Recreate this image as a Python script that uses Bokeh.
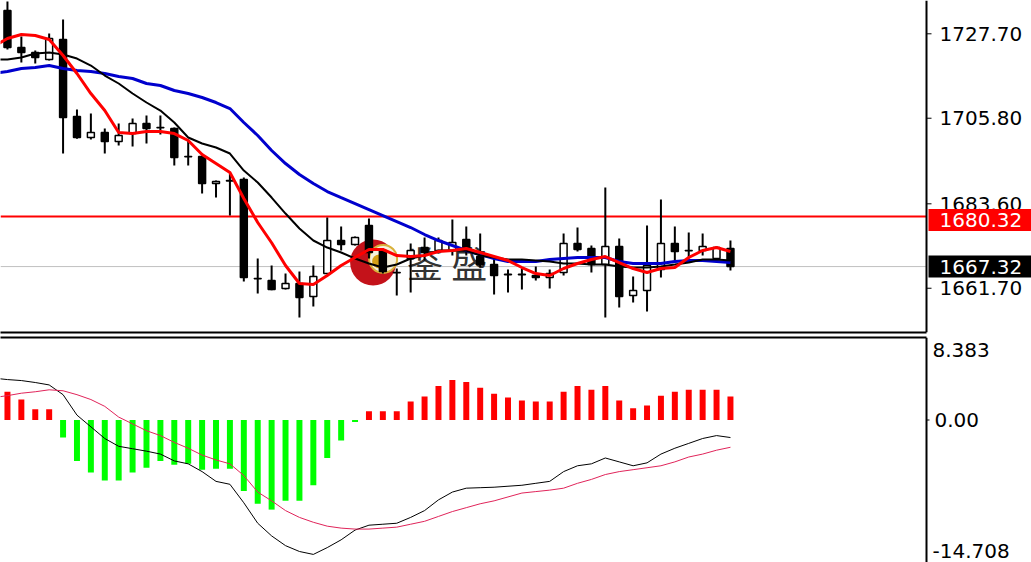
from bokeh.plotting import figure
from bokeh.layouts import column
from bokeh.models import Range1d, FixedTicker, LinearAxis, Span, ColumnDataSource
from bokeh.core.properties import value
from bokeh.embed import file_html
from bokeh.resources import INLINE

# ---------------- data ----------------
bars = list(range(53))
opens = [1733.74, 1724.15, 1722.85, 1721.03, 1726.22, 1706.25, 1700.80, 1702.09, 1699.76, 1701.83,
         1704.43, 1703.40, 1703.13, 1695.90, 1695.87, 1688.86, 1689.65, 1689.90, 1664.25, 1663.70,
         1661.63, 1662.92, 1659.55, 1665.52, 1674.08, 1673.04, 1677.97, 1671.49, 1665.80, 1669.41,
         1672.26, 1671.49, 1671.49, 1674.34, 1669.93, 1667.85, 1665.30, 1665.30, 1665.00, 1664.48,
         1665.78, 1673.30, 1672.01, 1667.85, 1672.52, 1659.81, 1661.11, 1666.56, 1673.30, 1671.50,
         1671.49, 1669.41, 1672.01]
highs = [1736.08, 1727.00, 1723.37, 1727.78, 1731.41, 1708.06, 1707.03, 1703.13, 1704.43, 1705.73,
         1706.51, 1706.51, 1703.39, 1700.28, 1696.13, 1689.64, 1691.46, 1690.42, 1669.41, 1667.59,
         1665.52, 1666.04, 1667.59, 1680.05, 1677.71, 1675.12, 1679.79, 1672.01, 1666.82, 1673.30,
         1674.86, 1674.86, 1679.53, 1677.71, 1675.90, 1669.67, 1666.56, 1666.82, 1667.34, 1666.56,
         1675.90, 1677.45, 1672.78, 1687.83, 1674.60, 1664.74, 1677.97, 1684.71, 1677.71, 1676.16,
         1675.90, 1672.52, 1674.08]
lows = [1723.63, 1720.25, 1719.99, 1720.77, 1696.65, 1700.50, 1700.28, 1696.65, 1698.72, 1698.46,
        1699.24, 1701.57, 1693.53, 1693.53, 1686.27, 1685.23, 1680.56, 1663.44, 1660.33, 1661.20,
        1661.37, 1654.11, 1656.96, 1665.40, 1671.49, 1672.78, 1669.41, 1665.52, 1659.81, 1660.59,
        1668.89, 1670.71, 1670.19, 1670.19, 1667.08, 1660.07, 1660.59, 1661.37, 1663.70, 1661.63,
        1665.00, 1671.23, 1665.78, 1654.11, 1656.70, 1658.00, 1655.66, 1664.48, 1668.89, 1669.41,
        1670.19, 1668.89, 1666.30]
closes = [1724.15, 1722.85, 1721.55, 1726.48, 1705.99, 1700.80, 1702.09, 1699.76, 1701.32, 1704.43,
          1703.13, 1703.30, 1695.61, 1695.80, 1688.86, 1689.38, 1689.55, 1664.48, 1664.15, 1661.37,
          1662.92, 1659.29, 1664.74, 1674.08, 1673.04, 1674.86, 1670.97, 1666.04, 1665.70, 1671.49,
          1670.97, 1674.08, 1673.56, 1671.49, 1667.85, 1665.00, 1665.20, 1665.20, 1664.48, 1665.52,
          1673.30, 1671.75, 1667.85, 1672.52, 1659.55, 1661.11, 1667.59, 1673.30, 1671.23, 1671.40,
          1672.52, 1672.26, 1667.32]

ma_x = list(range(-1, 53))
ma_fast = [1724.41, 1726.48, 1727.52, 1727.26, 1726.22, 1722.07, 1717.40, 1712.21, 1707.80, 1702.09,
           1701.83, 1702.35, 1702.35, 1701.83, 1700.02, 1696.39, 1694.05, 1691.72, 1685.00, 1678.75,
           1673.50, 1667.59, 1662.92, 1662.66, 1665.00, 1667.59, 1669.67, 1671.75, 1671.75, 1670.19,
           1669.93, 1670.19, 1671.23, 1671.49, 1672.01, 1670.97, 1669.93, 1668.89, 1667.08, 1665.52,
           1665.00, 1666.82, 1668.11, 1669.15, 1669.93, 1668.37, 1666.82, 1665.78, 1666.82, 1667.08,
           1669.67, 1671.49, 1672.26, 1671.23]
ma_mid = [1721.03, 1721.03, 1721.55, 1722.59, 1722.85, 1722.33, 1721.29, 1719.47, 1716.88, 1714.81,
          1712.21, 1709.88, 1707.80, 1704.69, 1700.80, 1699.24, 1698.20, 1696.65, 1692.24, 1689.12,
          1685.23, 1681.08, 1677.19, 1674.08, 1672.26, 1670.97, 1669.41, 1668.11, 1667.08, 1667.85,
          1669.41, 1670.19, 1671.49, 1671.49, 1671.49, 1670.19, 1669.67, 1669.15, 1669.15, 1668.89,
          1668.63, 1668.11, 1668.11, 1667.85, 1667.85, 1667.34, 1667.08, 1667.08, 1667.34, 1667.85,
          1668.37, 1669.15, 1669.15, 1668.89]
ma_slow = [1717.40, 1717.92, 1718.70, 1718.96, 1719.47, 1718.70, 1718.18, 1717.92, 1717.40, 1716.62,
           1716.10, 1714.81, 1714.29, 1712.99, 1712.21, 1711.18, 1709.88, 1708.32, 1704.69, 1701.32,
           1697.43, 1694.05, 1691.20, 1688.86, 1686.79, 1685.23, 1683.68, 1682.12, 1680.56, 1679.01,
           1677.45, 1675.64, 1674.08, 1672.78, 1671.49, 1670.45, 1669.41, 1668.63, 1668.63, 1668.63,
           1669.15, 1669.41, 1669.67, 1669.67, 1669.67, 1668.63, 1668.11, 1668.11, 1668.11, 1668.63,
           1668.89, 1668.89, 1668.63, 1668.37]

price_ticks = [1727.70, 1705.80, 1683.60, 1661.70]
resistance = 1680.32
last_price = 1667.32

hist = [2.9, 2.1, 1.1, 1.1, -1.8, -4.2, -5.4, -6.2, -6.2, -5.4,
        -4.9, -4.2, -4.6, -4.5, -5.1, -5.0, -5.0, -7.3, -8.6, -9.2,
        -8.3, -8.3, -6.7, -3.9, -2.1, -0.2, 0.9, 0.9, 0.9, 1.9,
        2.4, 3.5, 4.1, 3.9, 3.3, 2.7, 2.3, 2.0, 1.9, 1.9,
        2.9, 3.5, 3.1, 3.5, 2.0, 1.2, 1.5, 2.5, 2.9, 3.1,
        3.1, 3.1, 2.4]
macd_main = [4.3, 4.15, 4.05, 3.85, 3.6, 2.6, 0.5, -0.7, -1.9, -2.7,
             -2.95, -3.2, -3.5, -4.2, -4.5, -5.3, -6.3, -6.6, -8.5, -10.6,
             -11.9, -12.9, -13.5, -13.8, -13.1, -12.3, -11.3, -10.8, -10.7, -10.6,
             -10.0, -9.3, -8.2, -7.4, -7.0, -6.95, -6.9, -6.8, -6.7, -6.5,
             -6.3, -5.3, -4.7, -4.5, -3.9, -4.3, -4.7, -4.4, -3.5, -2.9,
             -2.4, -1.9, -1.6, -1.8]
macd_signal = [2.3, 2.5, 2.75, 2.9, 3.1, 3.0, 2.6, 2.1, 1.4, 0.3,
               -0.4, -1.1, -1.6, -2.3, -2.9, -3.6, -4.1, -4.5, -5.7, -7.4,
               -8.3, -9.3, -10.0, -10.5, -10.9, -11.1, -11.2, -11.2, -11.1, -11.0,
               -10.7, -10.4, -9.9, -9.4, -9.0, -8.6, -8.3, -7.9, -7.5, -7.35,
               -7.2, -7.0, -6.5, -6.1, -5.6, -5.3, -5.1, -4.9, -4.7, -4.3,
               -3.8, -3.5, -3.1, -2.8]
macd_top_label = 8.383
macd_zero_tick = 0.0
macd_bottom_label = -14.708

watermark_text = "鉴 盛"
watermark_bar = 26.3        # bar position of the watermark logo
watermark_price = 1668.4    # price level of the watermark

# ---------------- layout constants ----------------
W = 1031
CHART_PX = 926              # chart area width; the rest is the price scale
X0, X_CHART_END = -0.5, 66.1
PX_PER_BAR = CHART_PX / (X_CHART_END - X0)
X_END = X_CHART_END + (W - CHART_PX) / PX_PER_BAR
AXIS_X = X_CHART_END
FONT = "DejaVu Sans"
LABEL_SIZE = "20px"
X_RANGE = Range1d(X0, X_END)


def px(n):
    """horizontal pixel distance expressed in bar units"""
    return n / PX_PER_BAR


# ---------------- price panel ----------------
TOP_H = 332
P_LO, P_HI = 1650.22, 1736.34
PX_PER_PRICE = TOP_H / (P_HI - P_LO)
p = figure(frame_width=W, frame_height=TOP_H, x_range=X_RANGE,
           y_range=Range1d(P_LO, P_HI), output_backend="svg",
           toolbar_location=None, min_border=0, min_border_bottom=2,
           x_axis_location=None, y_axis_location=None)
p.outline_line_color = None
p.grid.visible = False

sep1 = LinearAxis(ticker=FixedTicker(ticks=[]), bounds=(X0, AXIS_X),
                  axis_line_width=2, axis_line_color="black",
                  major_tick_line_color=None, minor_tick_line_color=None,
                  major_label_text_font_size="0px", major_tick_out=0, major_label_standoff=0)
p.add_layout(sep1, "below")

# horizontal price lines (under the candles)
p.segment(x0=[X0, X0], x1=[AXIS_X, AXIS_X], y0=[resistance, last_price],
          y1=[resistance, last_price], line_color=["#ff0000", "#c0c0c0"], line_width=[2, 1])

# watermark (behind the candles)
p.scatter([watermark_bar], [watermark_price], size=46, marker="circle",
          fill_color="#c4121a", line_color=None)
p.scatter([watermark_bar + px(10)], [watermark_price + 3.5 / PX_PER_PRICE], size=28,
          marker="circle", fill_color="#f6f1de", line_color="#d9b13b", line_width=2)
p.scatter([watermark_bar + px(6)], [watermark_price + 1 / PX_PER_PRICE], size=14,
          marker="circle", fill_color="#d4a017", line_color=None)
p.text(x=[watermark_bar + px(34)], y=[watermark_price], text=[watermark_text],
       text_font=value("Noto Sans CJK SC"), text_font_size="36px",
       text_color="#333333", text_baseline="middle", text_align="left")

tops = [max(o, c) for o, c in zip(opens, closes)]
bots = [min(o, c) for o, c in zip(opens, closes)]
fills = ["black" if c < o else "white" for o, c in zip(opens, closes)]
src = ColumnDataSource(dict(x=bars, h=highs, l=lows, top=tops, bottom=bots, fill=fills))
p.segment(x0="x", y0="h", x1="x", y1="l", source=src, line_color="black", line_width=2)
p.vbar(x="x", width=0.5, top="top", bottom="bottom", source=src,
       fill_color="fill", line_color="black", line_width=1.5)

p.line(ma_x, ma_slow, line_color="#0000cd", line_width=3)
p.line(ma_x, ma_mid, line_color="black", line_width=2)
p.line(ma_x, ma_fast, line_color="#ff0000", line_width=3)

# price scale on the right
p.add_layout(Span(location=AXIS_X, dimension="height", line_color="black", line_width=2))
p.segment(x0=[AXIS_X] * len(price_ticks), x1=[AXIS_X + px(5)] * len(price_ticks),
          y0=price_ticks, y1=price_ticks, line_color="black", line_width=1)
p.text(x=[AXIS_X + px(13)] * len(price_ticks), y=price_ticks,
       text=["%.2f" % t for t in price_ticks], text_font=value(FONT),
       text_font_size=LABEL_SIZE, text_color="black", text_baseline="middle", text_align="left")

# current-level boxes
box_x = AXIS_X + px(2 + (W - CHART_PX - 2) / 2)
p.rect(x=[box_x, box_x], y=[resistance - 3.5 / PX_PER_PRICE, last_price],
       width=W - CHART_PX - 2, height=22, width_units="screen", height_units="screen",
       fill_color=["#ff0000", "black"], line_color=None)
p.text(x=[AXIS_X + px(13)] * 2, y=[resistance - 3.5 / PX_PER_PRICE, last_price],
       text=["%.2f" % resistance, "%.2f" % last_price], text_font=value(FONT),
       text_font_size=LABEL_SIZE, text_color="white", text_baseline="middle", text_align="left")

# ---------------- MACD panel ----------------
BOT_H = 225
M_LO, M_HI = -14.63, 8.47
q = figure(frame_width=W, frame_height=BOT_H, x_range=X_RANGE,
           y_range=Range1d(M_LO, M_HI), output_backend="svg",
           toolbar_location=None, min_border=0, min_border_top=3,
           x_axis_location=None, y_axis_location=None)
q.outline_line_color = None
q.grid.visible = False

sep2 = LinearAxis(ticker=FixedTicker(ticks=[]), bounds=(X0, AXIS_X),
                  axis_line_width=2, axis_line_color="black",
                  major_tick_line_color=None, minor_tick_line_color=None,
                  major_label_text_font_size="0px", major_tick_out=0, major_label_standoff=0)
q.add_layout(sep2, "above")

hcol = ["#ff0000" if v >= 0 else "#00ff00" for v in hist]
q.vbar(x=bars, top=hist, bottom=0, width=0.43, fill_color=hcol, line_color=None)
q.line(ma_x, macd_main, line_color="black", line_width=1)
q.line(ma_x, macd_signal, line_color="#e0245a", line_width=1)

q.add_layout(Span(location=AXIS_X, dimension="height", line_color="black", line_width=2))
q.segment(x0=[AXIS_X], x1=[AXIS_X + px(3)], y0=[macd_zero_tick], y1=[macd_zero_tick],
          line_color="black", line_width=1)
q.text(x=[AXIS_X + px(8)], y=[macd_zero_tick], text=["%.2f" % macd_zero_tick],
       text_font=value(FONT), text_font_size=LABEL_SIZE, text_color="black",
       text_baseline="middle", text_align="left")
q.text(x=[AXIS_X + px(6)] * 2, y=[macd_top_label, macd_bottom_label],
       text=["%.3f" % macd_top_label, "%.3f" % macd_bottom_label],
       y_offset=[12, -12], text_font=value(FONT), text_font_size=LABEL_SIZE,
       text_color="black", text_baseline="middle", text_align="left")

layout = column(p, q, spacing=0)
open("out.html", "w").write(file_html(layout, INLINE))
